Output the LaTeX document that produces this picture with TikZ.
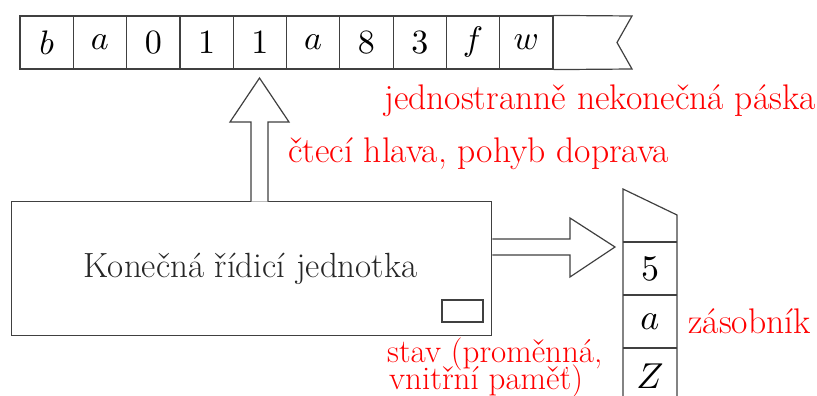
\documentclass[tikz,border=0pt]{standalone}
\usepackage{fontspec}
\setmainfont{Latin Modern Roman}
\newcommand\mytightlines{\lineskiplimit=-100pt\relax}
\begin{document}
\begin{tikzpicture}[x=1pt,y=-1pt,
  ln/.style={draw=black!75, line width=1.2pt},
  cell/.style={ln, minimum width=53.3pt, minimum height=53pt, inner sep=0pt},
  scell/.style={inner sep=0pt},
  lbl/.style={text=red, inner sep=0pt, anchor=base west, font=\fontsize{35.6}{25}\selectfont\mytightlines},
  ]
\useasboundingbox (0,0) rectangle (817,396);
% tape
\foreach \s [count=\i] in {b,a,0,1,1,a,8,3,f,w}{
  \node[cell] (c\i) at ({20+53.3*(\i-0.5)},42.5) {\scalebox{3.4}{$\s$}};
}
\coordinate (tend) at (632,16);
\draw[ln] (c10.north east) -- (tend) -- (617,42.5) -- (632,69) -- (c10.south east);
% control unit
\node[ln, minimum width=480pt, minimum height=134pt, inner sep=0pt] (box) at (251.7,268.7) {};
\node[inner sep=0pt, anchor=base, font=\fontsize{35}{40}\selectfont, text=black!85] (boxt) at (250.5,277) {Konečná řídicí jednotka};
\node[ln, minimum width=41pt, minimum height=22pt, inner sep=0pt] (state) at (462.5,311) {};
% head arrow
\draw[ln, fill=white] (251,201.7) -- (251,122) -- (230,122) -- (259.5,78) -- (289,122) -- (268,122) -- (268,201.7);
% stack
\coordinate (st1) at (623,189);
\coordinate (st2) at (677,215);
\draw[ln] (623,396) -- (st1) -- (st2) -- (677,396);
\draw[ln] (623,242) -- (677,242) (623,295) -- (677,295) (623,348) -- (677,348);
\node[scell] (s1) at (650,269) {\scalebox{3.6}{$5$}};
\node[scell] (s2) at (650,322) {\scalebox{3.6}{$a$}};
\node[scell] (s3) at (650,376) {\scalebox{3.6}{$Z$}};
% arrow to stack
\draw[ln, fill=white] (box.east |- 0,239) -- (570,239) -- (570,218) -- (615,247) -- (570,277) -- (570,255) -- (box.east |- 0,255);
% labels
\node[lbl] (l1) at (384,110) {jednostranně nekonečná páska};
\node[lbl] (l2) at (288,162) {čtecí hlava, pohyb doprava};
\node[lbl] (l3) at (688,333) {zásobník};
\node[lbl, align=left, font=\fontsize{33}{27}\selectfont\mytightlines] (l4) at (387,389) {stav (proměnná,\\\hspace{2pt}vnitřní paměť)};
\end{tikzpicture}
\end{document}
